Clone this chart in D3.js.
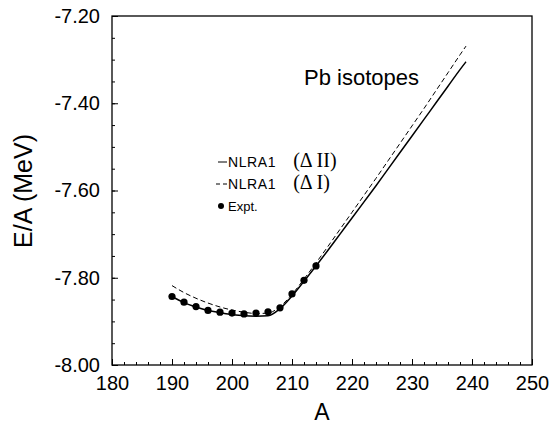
<!DOCTYPE html>
<meta charset="utf-8">
<style>
body { margin: 0; background: #fff; }
svg { font-family: Arial, "Liberation Sans", sans-serif; }
.frame { fill: none; stroke: #000; stroke-width: 1.3px; }
.axis path { display: none; }
.axis line { stroke: #000; stroke-width: 1px; }
.axis text { font-size: 20px; fill: #000; }
.solid { fill: none; stroke: #000; stroke-width: 1.5px; }
.dashed { fill: none; stroke: #000; stroke-width: 1px; stroke-dasharray: 5,3; }
.dot { fill: #000; }
</style>
<body>
<script src="https://cdn.jsdelivr.net/npm/d3@7"></script>
<script>
var width = 549,
    height = 427;

// calculated curves, every 2 mass units
var massA = [190, 192, 194, 196, 198, 200, 202, 204, 206, 208, 210, 212, 214,
             216, 218, 220, 222, 224, 226, 228, 230, 232, 234, 236, 238, 239];
var deltaII = [-7.843, -7.857, -7.867, -7.875, -7.880, -7.884, -7.887, -7.888, -7.887, -7.871,
               -7.842, -7.808, -7.773, -7.737, -7.700, -7.663, -7.626, -7.589, -7.551, -7.513,
               -7.475, -7.437, -7.399, -7.361, -7.323, -7.305];
var deltaI = [-7.818, -7.834, -7.847, -7.858, -7.867, -7.874, -7.879, -7.882, -7.881, -7.866,
              -7.838, -7.803, -7.766, -7.728, -7.689, -7.650, -7.611, -7.572, -7.532, -7.492,
              -7.452, -7.412, -7.371, -7.330, -7.289, -7.269];

// experimental points
var exptA = [190, 192, 194, 196, 198, 200, 202, 204, 206, 208, 210, 212, 214];
var exptE = [-7.843, -7.856, -7.866, -7.875, -7.879, -7.881, -7.883, -7.881, -7.878, -7.869,
             -7.837, -7.806, -7.773];

var xTicks = [180, 190, 200, 210, 220, 230, 240, 250];
var yTicks = [-8.00, -7.80, -7.60, -7.40, -7.20];

var x = d3.scaleLinear().domain([180, 250]).range([112, 532]);
var y = d3.scaleLinear().domain([-8.0, -7.2]).range([365, 16]);

var svg = d3.select("body").append("svg")
    .attr("width", width)
    .attr("height", height);

svg.append("rect")
    .attr("class", "frame")
    .attr("x", x(180))
    .attr("y", y(-7.2))
    .attr("width", x(250) - x(180))
    .attr("height", y(-8.0) - y(-7.2));

// minor ticks (inward)
svg.append("g")
    .attr("class", "axis")
    .attr("transform", "translate(0," + y(-8.0) + ")")
    .call(d3.axisBottom(x).tickValues(d3.range(180, 251, 2)).tickSize(-3).tickFormat(""));
svg.append("g")
    .attr("class", "axis")
    .attr("transform", "translate(" + x(180) + ",0)")
    .call(d3.axisLeft(y).tickValues(d3.range(-8.0, -7.19, 0.05)).tickSize(-3).tickFormat(""));

// major ticks with labels (plain hyphen for the minus sign)
svg.append("g")
    .attr("class", "axis")
    .attr("transform", "translate(0," + y(-8.0) + ")")
    .call(d3.axisBottom(x).tickValues(xTicks).tickSize(-6).tickPadding(11).tickFormat(d3.format("d")));
svg.append("g")
    .attr("class", "axis")
    .attr("transform", "translate(" + x(180) + ",0)")
    .call(d3.axisLeft(y).tickValues(yTicks).tickSize(-6).tickPadding(12)
      .tickFormat(function(d) { return d3.format(".2f")(d).replace("\u2212", "-"); }));

var line = d3.line()
    .x(function(d) { return x(d[0]); })
    .y(function(d) { return y(d[1]); })
    .curve(d3.curveMonotoneX);

svg.append("path")
    .datum(d3.zip(massA, deltaI))
    .attr("class", "dashed")
    .attr("d", line);
svg.append("path")
    .datum(d3.zip(massA, deltaII))
    .attr("class", "solid")
    .attr("d", line);

svg.selectAll(".dot")
    .data(d3.zip(exptA, exptE))
    .enter().append("circle")
    .attr("class", "dot")
    .attr("cx", function(d) { return x(d[0]); })
    .attr("cy", function(d) { return y(d[1]); })
    .attr("r", 3.6);

// axis titles
svg.append("text")
    .attr("x", 322)
    .attr("y", 420)
    .attr("text-anchor", "middle")
    .style("font-size", "23px")
    .text("A");
svg.append("text")
    .attr("transform", "translate(32,191) rotate(-90)")
    .attr("text-anchor", "middle")
    .style("font-size", "25px")
    .text("E/A (MeV)");

svg.append("text")
    .attr("x", 304)
    .attr("y", 85)
    .style("font-size", "22px")
    .text("Pb isotopes");

// legend
var lg = svg.append("g").attr("transform", "translate(216,0)");
lg.append("line").attr("x1", 2).attr("x2", 11).attr("y1", 162).attr("y2", 162)
    .attr("stroke", "#000").attr("stroke-width", 1);
lg.append("line").attr("x1", 0).attr("x2", 11).attr("y1", 184).attr("y2", 184)
    .attr("stroke", "#000").attr("stroke-width", 1).attr("stroke-dasharray", "4,3");
lg.append("circle").attr("cx", 5).attr("cy", 206).attr("r", 3).attr("fill", "#000");

var rows = [["NLRA1", "(\u0394 II)", 167], ["NLRA1", "(\u0394 I)", 189]];
rows.forEach(function(r) {
  var t = lg.append("text").attr("x", 12).attr("y", r[2]).style("font-size", "14px")
      .style("letter-spacing", "0.6px");
  t.append("tspan").text(r[0]);
  t.append("tspan").attr("dx", 17)
      .style("font-family", "'Liberation Serif', 'Times New Roman', serif")
      .style("font-size", "20px")
      .style("letter-spacing", "0px")
      .text(r[1]);
});
lg.append("text").attr("x", 12).attr("y", 211).style("font-size", "13px").text("Expt.");
</script>
